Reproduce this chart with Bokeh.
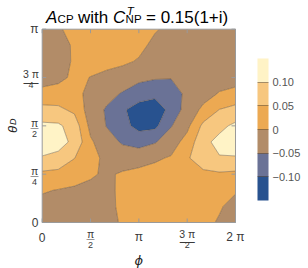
import numpy as np
from bokeh.plotting import figure
from bokeh.models import Range1d, FixedTicker, ColorBar, LinearColorMapper
from bokeh.core.properties import value
from bokeh.embed import file_html
from bokeh.resources import INLINE

# ---------------- data ----------------
PHI_DEG = [0, 30, 60, 90, 120, 150, 180, 210, 240, 270, 300, 330, 360]
THETA_DEG = [0, 15, 30, 45, 60, 75, 90, 105, 120, 135, 150, 165, 180]
# A_CP estimated on the grid: one row per theta (bottom to top), one column per phi
ACP = [
    [-0.018, -0.028, -0.030, -0.024, -0.011, 0.004, 0.018, 0.028, 0.030, 0.024, 0.011, -0.004, -0.018],
    [-0.013, -0.018, -0.022, -0.020, -0.009, 0.007, 0.019, 0.028, 0.030, 0.026, 0.015, 0.004, -0.013],
    [0.004, -0.002, -0.007, -0.010, -0.008, 0.007, 0.017, 0.024, 0.028, 0.032, 0.025, 0.022, 0.004],
    [0.039, 0.034, 0.020, 0.005, -0.006, 0.005, 0.012, 0.015, 0.018, 0.040, 0.040, 0.043, 0.039],
    [0.097, 0.088, 0.051, 0.016, -0.012, -0.022, -0.018, -0.006, 0.004, 0.045, 0.075, 0.097, 0.097],
    [0.120, 0.116, 0.090, 0.007, -0.030, -0.056, -0.070, -0.054, -0.022, 0.018, 0.088, 0.113, 0.120],
    [0.110, 0.108, 0.078, -0.014, -0.052, -0.085, -0.115, -0.112, -0.053, -0.012, 0.062, 0.088, 0.110],
    [0.066, 0.060, 0.040, -0.025, -0.055, -0.094, -0.120, -0.128, -0.085, -0.028, 0.010, 0.051, 0.066],
    [0.014, 0.021, 0.022, -0.020, -0.035, -0.054, -0.077, -0.087, -0.082, -0.035, -0.018, 0.003, 0.014],
    [-0.020, -0.013, 0.010, -0.001, -0.010, -0.022, -0.037, -0.045, -0.047, -0.036, -0.030, -0.020, -0.020],
    [-0.028, -0.020, 0.006, 0.015, 0.012, 0.008, -0.004, -0.029, -0.030, -0.034, -0.035, -0.030, -0.028],
    [-0.027, -0.018, 0.006, 0.025, 0.025, 0.020, 0.012, -0.011, -0.020, -0.030, -0.035, -0.032, -0.027],
    [-0.018, -0.004, 0.011, 0.024, 0.030, 0.028, 0.018, 0.004, -0.011, -0.024, -0.030, -0.028, -0.018],
]
LEVELS = [-0.15, -0.10, -0.05, 0.0, 0.05, 0.10, 0.15]
BAND_COLORS = ["#28528f", "#6a7296", "#b28c68", "#eca952", "#f7c77f", "#fff3c6"]
CB_TICKS = [-0.10, -0.05, 0.0, 0.05, 0.10]
CB_LABELS = ["\u22120.10", "\u22120.05", "0", "0.05", "0.10"]
X_TICKS = [0, 0.5, 1, 1.5, 2]          # multiples of pi
X_NUM = ["0", "\u03c0", "\u03c0", "3 \u03c0", "2 \u03c0"]
X_DEN = [None, "2", None, "2", None]
Y_TICKS = [0, 0.25, 0.5, 0.75, 1]      # multiples of pi
Y_NUM = ["0", "\u03c0", "\u03c0", "3 \u03c0", "\u03c0"]
Y_DEN = [None, "4", "2", "4", None]

FONT = "Liberation Sans"
TICK_COLOR = "#3a3a3a"
FRAME_COLOR = "#9a9a9a"

# ---------------- layout (pixels of the 308x268 canvas) ----------------
CW, CH = 308, 268
L, R, T, B = 41.7, 235.0, 28.7, 222.0          # plot box edges
XMAX, YMAX = 2 * np.pi, np.pi
SX = XMAX / (R - L)                              # data units per pixel
SY = YMAX / (B - T)

p = figure(width=CW, height=CH, title=None,
           x_range=Range1d(-L * SX, (CW - L) * SX),
           y_range=Range1d(-(CH - B) * SY, YMAX + T * SY),
           x_axis_location=None, y_axis_location=None,
           output_backend="svg", toolbar_location=None,
           min_border=0)
p.xgrid.visible = False
p.ygrid.visible = False
p.outline_line_color = None

phi = np.radians(PHI_DEG)
theta = np.radians(THETA_DEG)
z = np.array(ACP)
p.contour(phi, theta, z, LEVELS, fill_color=BAND_COLORS,
          line_color="#4d3b2a", line_alpha=0.5, line_width=0.8)

# plot box
p.quad(left=[0], right=[XMAX], bottom=[0], top=[YMAX], fill_color=None,
       line_color=FRAME_COLOR, line_width=1)

# ticks (pointing inwards on all four sides)
TL = 4
xt = [t * np.pi for t in X_TICKS]
yt = [t * np.pi for t in Y_TICKS]
p.segment(x0=xt, y0=[0] * len(xt), x1=xt, y1=[TL * SY] * len(xt), line_color=FRAME_COLOR)
p.segment(x0=xt, y0=[YMAX] * len(xt), x1=xt, y1=[YMAX - TL * SY] * len(xt), line_color=FRAME_COLOR)
p.segment(x0=[0] * len(yt), y0=yt, x1=[TL * SX] * len(yt), y1=yt, line_color=FRAME_COLOR)
p.segment(x0=[XMAX] * len(yt), y0=yt, x1=[XMAX - TL * SX] * len(yt), y1=yt, line_color=FRAME_COLOR)


def txt(xs, ys, texts, size, align="center", baseline="alphabetic",
        style="normal", color=TICK_COLOR, angle=0.0, font=FONT):
    p.text(x=xs, y=ys, text=texts, text_font=value(font),
           text_font_size=f"{size}px", text_align=align, text_baseline=baseline,
           text_font_style=style, text_color=color, angle=angle)


# x tick labels (offsets in px below the box)
for t, num, den in zip(X_TICKS, X_NUM, X_DEN):
    x = t * np.pi
    if den is None:
        txt([x], [-14.7 * SY], [num], 12)
    else:
        bw = 15 if len(num) > 1 else 8
        txt([x], [-11.0 * SY], [num], 10.5)
        txt([x], [(-13.7 - 0.28 * bw) * SY], ["\u2014"], bw)
        txt([x], [-22.3 * SY], [den], 9)

# y tick labels (offsets in px left of the box)
for t, num, den in zip(Y_TICKS, Y_NUM, Y_DEN):
    y = t * np.pi
    if den is None:
        txt([-3.7 * SX], [y], [num], 12, align="right", baseline="middle")
    else:
        bw = 15 if len(num) > 1 else 8
        cx = (-3.7 - bw / 2) * SX
        txt([cx], [y + 3.2 * SY], [num], 10.5)
        txt([cx], [y + (0.5 - 0.28 * bw) * SY], ["\u2014"], bw)
        txt([cx], [y - 7.8 * SY], [den], 9)

# axis labels
txt([np.pi], [-(259.5 - B) * SY], ["\u03d5"], 13, style="italic", color="#222222",
    font="DejaVu Sans")
txt([(11.7 - L) * SX], [(B - 129.0) * SY], ["\u03b8"], 13, baseline="middle",
    style="italic", color="#222222", angle=np.pi / 2)
txt([(12.8 - L) * SX], [(B - 121.3) * SY], ["D"], 9, baseline="middle",
    style="italic", color="#222222", angle=np.pi / 2)

# title pieces (page x positions, baselines)
MAIN, SCRIPT = 17, 11.5
BASE, SUB, SUP = 17.0, 18.6, 10.0


def title_piece(px, py, s, size, style="normal"):
    txt([(px - L) * SX], [(B - py) * SY], [s], size, align="left",
        style=style, color="#000000")


title_piece(45.5, BASE, "A", MAIN, "italic")
title_piece(57.1, SUB, "CP", SCRIPT)
title_piece(77.5, BASE, "with", MAIN)
title_piece(112.5, BASE, "C", MAIN, "italic")
title_piece(126.2, SUP, "T", SCRIPT, "italic")
title_piece(125.1, SUB, "NP", SCRIPT)
title_piece(145.5, BASE, "= 0.15(1+i)", MAIN)

# colour bar
mapper = LinearColorMapper(palette=BAND_COLORS, low=LEVELS[0], high=LEVELS[-1])
cb = ColorBar(color_mapper=mapper, ticker=FixedTicker(ticks=CB_TICKS),
              major_label_overrides=dict(zip(CB_TICKS, CB_LABELS)),
              width=11, height=142, location=(257, CH - 200), padding=0,
              label_standoff=4, major_tick_in=11, major_tick_out=0,
              major_tick_line_color="#4d3b2a", major_tick_line_alpha=0.5,
              minor_tick_line_color=None, bar_line_color=None,
              border_line_color=None, background_fill_color=None,
              major_label_text_font=FONT, major_label_text_font_size="11px",
              major_label_text_color="#555555")
p.add_layout(cb, "center")

open("out.html", "w").write(file_html(p, INLINE))
